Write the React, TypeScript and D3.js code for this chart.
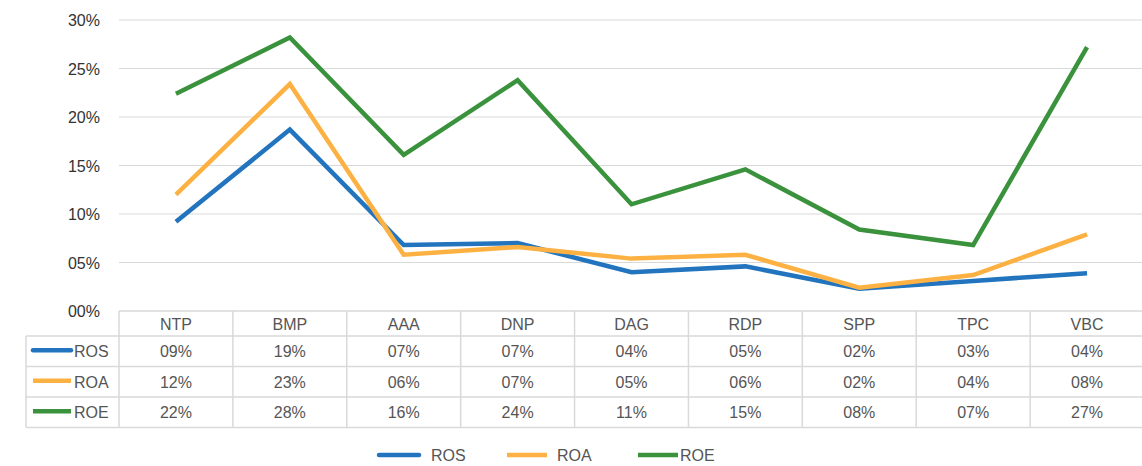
import React, { useEffect, useRef } from "react";
import * as d3 from "d3";

// chart data (percent)
const categories = ["NTP", "BMP", "AAA", "DNP", "DAG", "RDP", "SPP", "TPC", "VBC"];
const rosValues = [9.2, 18.7, 6.8, 7.0, 4.0, 4.6, 2.3, 3.1, 3.9];
const roaValues = [12.0, 23.4, 5.8, 6.6, 5.4, 5.8, 2.4, 3.7, 7.9];
const roeValues = [22.4, 28.2, 16.1, 23.8, 11.0, 14.6, 8.4, 6.8, 27.2];
const yTicks = [0, 5, 10, 15, 20, 25, 30];

const seriesNames = ["ROS", "ROA", "ROE"];
const seriesColors = ["#2174bd", "#fdb143", "#3a923d"];

const width = 1142, height = 466;
const plot = { left: 119, right: 1144, top: 20, bottom: 311 };
const rowH = 30.5, headerH = 25;
const font = "'Liberation Sans', Arial, sans-serif";

const pad = (v: number) => String(Math.round(v)).padStart(2, "0") + "%";

export default function App() {
    const ref = useRef<SVGSVGElement>(null);

    useEffect(() => {
        const svg = d3.select(ref.current);
        svg.selectAll("*").remove();

        const series = [rosValues, roaValues, roeValues];

        // band scale for table columns / point positions
        const x = d3.scaleBand().domain(categories).range([plot.left, plot.right]).padding(0);
        const y = d3.scaleLinear().domain([0, 30]).range([plot.bottom, plot.top]);

        // gridlines
        svg.append("g").selectAll("line").data(yTicks.slice(1)).join("line")
            .attr("x1", plot.left).attr("x2", width)
            .attr("y1", d => y(d)).attr("y2", d => y(d))
            .attr("stroke", "#d9d9d9").attr("stroke-width", 1.2);

        // y tick labels
        svg.append("g").selectAll("text").data(yTicks).join("text")
            .attr("x", 100).attr("y", d => y(d) + 6)
            .attr("text-anchor", "end")
            .attr("font-family", font).attr("font-size", 16).attr("fill", "#333")
            .text(d => pad(d));

        // lines
        const line = d3.line<number>()
            .x((d, i) => x(categories[i])! + x.bandwidth() / 2)
            .y(d => y(d));

        series.forEach((vals, si) => {
            svg.append("path")
                .attr("d", line(vals))
                .attr("fill", "none")
                .attr("stroke", seriesColors[si])
                .attr("stroke-width", 4.5)
                .attr("stroke-linejoin", "miter");
        });

        // data table
        const table = svg.append("g");
        const tableBottom = plot.bottom + headerH + rowH * 3;
        const grid = "#d9d9d9";

        // horizontal lines
        table.append("line")
            .attr("x1", plot.left).attr("x2", width)
            .attr("y1", plot.bottom).attr("y2", plot.bottom)
            .attr("stroke", grid).attr("stroke-width", 1.5);
        [0, 1, 2, 3].forEach(r => {
            const yy = plot.bottom + headerH + r * rowH;
            table.append("line")
                .attr("x1", 26).attr("x2", width)
                .attr("y1", yy).attr("y2", yy)
                .attr("stroke", grid).attr("stroke-width", 1.5);
        });

        // vertical lines
        table.append("line")
            .attr("x1", 26).attr("x2", 26)
            .attr("y1", plot.bottom + headerH).attr("y2", tableBottom)
            .attr("stroke", grid).attr("stroke-width", 1.5);
        categories.forEach(c => {
            const xx = x(c)!;
            table.append("line")
                .attr("x1", xx).attr("x2", xx)
                .attr("y1", plot.bottom).attr("y2", tableBottom)
                .attr("stroke", grid).attr("stroke-width", 1.5);
        });

        // header labels
        table.selectAll("text.cat").data(categories).join("text")
            .attr("class", "cat")
            .attr("x", d => x(d)! + x.bandwidth() / 2)
            .attr("y", plot.bottom + 19)
            .attr("text-anchor", "middle")
            .attr("font-family", font).attr("font-size", 16).attr("fill", "#555")
            .text(d => d);

        // rows
        series.forEach((vals, si) => {
            const cy = plot.bottom + headerH + si * rowH + rowH / 2;
            table.append("line")
                .attr("x1", 33).attr("x2", 71)
                .attr("y1", cy - 1).attr("y2", cy - 1)
                .attr("stroke", seriesColors[si]).attr("stroke-width", 4.5)
                .attr("stroke-linecap", si === 0 ? "round" : "butt");
            table.append("text")
                .attr("x", 74).attr("y", cy + 6)
                .attr("font-family", font).attr("font-size", 16).attr("fill", "#555")
                .text(seriesNames[si]);
            table.selectAll(`text.v${si}`).data(vals).join("text")
                .attr("class", `v${si}`)
                .attr("x", (d, i) => x(categories[i])! + x.bandwidth() / 2)
                .attr("y", cy + 6)
                .attr("text-anchor", "middle")
                .attr("font-family", font).attr("font-size", 16).attr("fill", "#555")
                .text(d => pad(d));
        });

        // bottom legend
        const legendX = [379, 507, 638];
        const legendTextX = [431, 557, 680];
        const ly = 455;
        seriesNames.forEach((name, si) => {
            svg.append("line")
                .attr("x1", legendX[si]).attr("x2", legendX[si] + 40)
                .attr("y1", ly).attr("y2", ly)
                .attr("stroke", seriesColors[si]).attr("stroke-width", 4.5)
                .attr("stroke-linecap", si === 0 ? "round" : "butt");
            svg.append("text")
                .attr("x", legendTextX[si]).attr("y", ly + 6)
                .attr("font-family", font).attr("font-size", 16).attr("fill", "#555")
                .text(name);
        });
    }, []);

    return (
        <svg ref={ref} width={width} height={height}
            style={{ position: "absolute", left: 0, top: 0, background: "#fff" }} />
    );
}
